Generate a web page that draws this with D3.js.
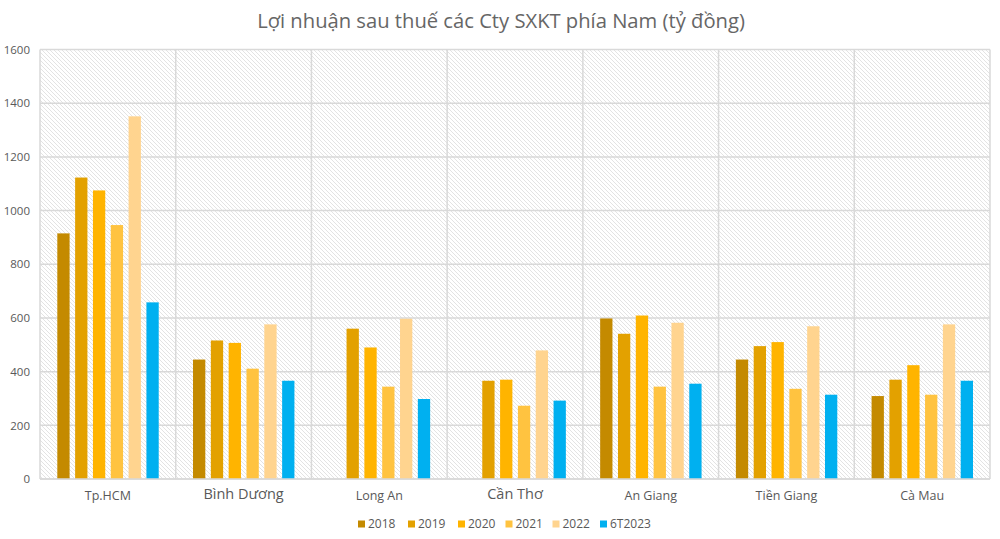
<!DOCTYPE html>
<html><head><meta charset="utf-8">
<script src="https://cdn.jsdelivr.net/npm/d3@7"></script>
<style>body{margin:0;background:#fff}svg{display:block}</style>
</head><body><svg id="chart" width="1000" height="539"></svg>
<script>
const categories = ["Tp.HCM","Bình Dương","Long An","Cần Thơ","An Giang","Tiền Giang","Cà Mau"];
const seriesNames = ["2018","2019","2020","2021","2022","6T2023"];
const v2018 = [915, 445, 0, 0, 598, 445, 309];
const v2019 = [1123, 516, 560, 366, 541, 495, 370];
const v2020 = [1075, 507, 490, 370, 609, 510, 424];
const v2021 = [946, 411, 344, 273, 344, 336, 314];
const v2022 = [1351, 576, 597, 479, 582, 569, 576];
const v6T2023 = [658, 366, 298, 292, 355, 314, 366];
const seriesValues = [v2018, v2019, v2020, v2021, v2022, v6T2023];
const colors = ["#C48A00","#E3A100","#FFB400","#FFC340","#FFD48F","#00B0F0"];
const yTicks = [0,200,400,600,800,1000,1200,1400,1600];

const svg = d3.select("#chart");
const pLeft = 40, pRight = 990, pTop = 49.5, pBottom = 479;
const x0 = d3.scaleBand().domain(categories).range([pLeft, pRight]).paddingInner(0).paddingOuter(0);
const x1 = d3.scaleBand().domain(seriesNames).range([17.3, x0.bandwidth() - 17]).paddingInner(0.31).paddingOuter(0);
const y = d3.scaleLinear().domain([0, 1600]).range([pBottom, pTop]);

const defs = svg.append("defs");
const pat = defs.append("pattern").attr("id","hatch").attr("patternUnits","userSpaceOnUse")
  .attr("width",4).attr("height",4);
pat.append("rect").attr("width",4).attr("height",4).attr("fill","#fff");
pat.append("path").attr("d","M-1,-1 L5,5 M-1,3 L1,5 M3,-1 L5,1")
  .attr("stroke","#dcdcdc").attr("stroke-width",0.8);

svg.append("rect").attr("x",pLeft).attr("y",pTop).attr("width",pRight-pLeft).attr("height",pBottom-pTop)
  .attr("fill","url(#hatch)");

svg.append("g").selectAll("line").data(yTicks).join("line")
  .attr("x1",pLeft).attr("x2",pRight).attr("y1",d=>y(d)).attr("y2",d=>y(d))
  .attr("stroke","#d9d9d9").attr("stroke-width",1.5);
const bounds = categories.map(c=>x0(c)).concat([pRight]);
svg.append("g").selectAll("line").data(bounds).join("line")
  .attr("x1",d=>d).attr("x2",d=>d).attr("y1",pTop).attr("y2",pBottom)
  .attr("stroke","#d9d9d9").attr("stroke-width",1.5);

const groups = svg.append("g").selectAll("g").data(categories).join("g")
  .attr("transform",c=>`translate(${x0(c)},0)`);
groups.selectAll("rect").data((c,ci)=>seriesNames.map((s,si)=>({s, si, v: seriesValues[si][ci]})))
  .join("rect")
  .attr("x",d=>x1(d.s)).attr("width",x1.bandwidth())
  .attr("y",d=>y(d.v)).attr("height",d=>y(0)-y(d.v))
  .attr("fill",d=>colors[d.si]);

svg.append("line").attr("x1",pLeft).attr("x2",pRight).attr("y1",pBottom).attr("y2",pBottom)
  .attr("stroke","#d9d9d9").attr("stroke-width",1.5);

const font = "'Open Sans', 'Noto Sans', sans-serif";
const yAxis = d3.axisLeft(y).tickValues(yTicks).tickFormat(d3.format("d")).tickSize(0).tickPadding(10);
const ya = svg.append("g").attr("transform",`translate(${pLeft},0)`).call(yAxis);
ya.select(".domain").remove();
ya.selectAll("text").attr("font-family",font).attr("font-size",11.5).attr("fill","#595959");

const bigLabels = new Set(["Bình Dương","Cần Thơ"]);
const xAxis = d3.axisBottom(x0).tickSize(0).tickPadding(12);
const xa = svg.append("g").attr("transform",`translate(0,${pBottom})`).call(xAxis);
xa.select(".domain").remove();
xa.selectAll("text").attr("font-family",font).attr("font-size",d=>bigLabels.has(d)?14.5:12.5)
  .attr("fill","#595959").attr("dy",d=>bigLabels.has(d)?"0.55em":"0.75em");

svg.append("text").attr("x",501).attr("y",28).attr("text-anchor","middle")
  .attr("font-family",font).attr("font-size",20.2).attr("fill","#666666")
  .text("Lợi nhuận sau thuế các Cty SXKT phía Nam (tỷ đồng)");

const legendX = [358, 408, 458, 505.5, 552.5, 600];
const lg = svg.append("g").selectAll("g").data(seriesNames).join("g")
  .attr("transform",(d,i)=>`translate(${legendX[i]},524)`);
lg.append("rect").attr("x",0).attr("y",-3.5).attr("width",7).attr("height",7).attr("fill",(d,i)=>colors[i]);
lg.append("text").attr("x",10).attr("y",0).attr("dy","0.35em")
  .attr("font-family",font).attr("font-size",12).attr("fill","#595959").text(d=>d);
</script></body></html>
